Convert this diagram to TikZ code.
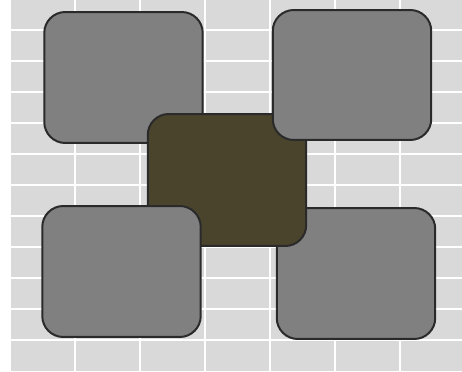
\documentclass[tikz,border=0pt]{standalone}
\usetikzlibrary{positioning}
\definecolor{bggray}{HTML}{D9D9D9}
\definecolor{boxgray}{HTML}{808080}
\definecolor{boxedge}{HTML}{2A2A2A}
\definecolor{olive}{HTML}{4A442D}
\begin{document}
\begin{tikzpicture}[
  x=0.02cm, y=-0.02cm,
  gridline/.style={draw=white, line width=0.03cm},
  tile/.style={rectangle, rounded corners=0.42cm, draw=boxedge, line width=0.04cm,
    fill=boxgray, minimum width=3.17cm, minimum height=2.62cm, inner sep=0pt},
  core/.style={tile, fill=olive},
]
\useasboundingbox (0,0) rectangle (462,371);

% Background grid
\fill[bggray] (11,0) rectangle (462,371);
\foreach \x in {75,140,...,400}
  \draw[gridline] (\x,0) -- (\x,371);
\foreach \y in {30,61,...,340}
  \draw[gridline] (11,\y) -- (462,\y);

% Tiles behind the centre
\node[tile] (topleft) at (123.5,77.5) {};
\node[tile] (botright) at (356,273.5) {};

% Centre tile
\node[core, minimum height=2.64cm] (centre) at (227,180) {};

% Tiles in front of the centre
\node[tile, minimum height=2.6cm] (topright) at (352,75) {};
\node[tile] (botleft) at (121.5,271.5) {};

\end{tikzpicture}
\end{document}
